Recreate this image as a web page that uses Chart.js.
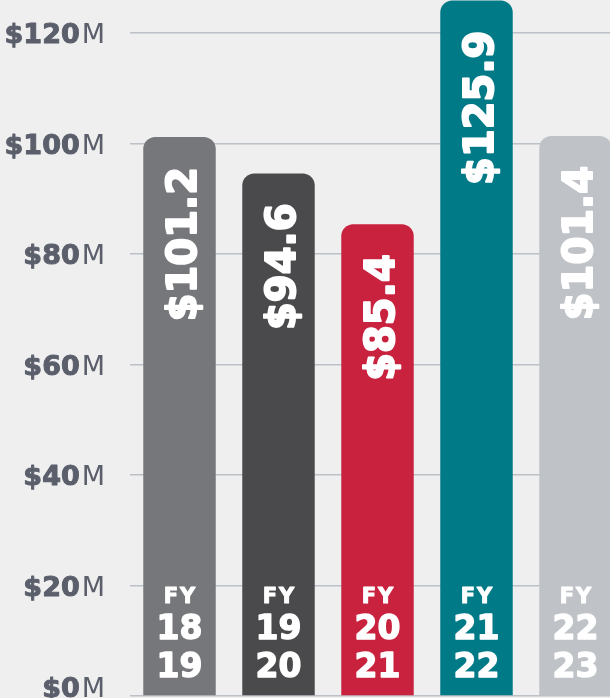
<!DOCTYPE html>
<html>
<head>
<meta charset="utf-8">
<script src="https://cdn.jsdelivr.net/npm/chart.js@4.4.1/dist/chart.umd.min.js"></script>
<style>
  html, body { margin: 0; padding: 0; background: #efefef; width: 610px; height: 698px; overflow: hidden; }
  canvas { display: block; }
</style>
</head>
<body>
<canvas id="c" width="625" height="698"></canvas>
<script>
const categories = ['FY 18-19', 'FY 19-20', 'FY 20-21', 'FY 21-22', 'FY 22-23'];
const fyStart = ['18', '19', '20', '21', '22'];
const fyEnd = ['19', '20', '21', '22', '23'];
const revenue = [101.2, 94.6, 85.4, 125.9, 101.4];
const valueLabels = ['$101.2', '$94.6', '$85.4', '$125.9', '$101.4'];
const barColors = ['#76777b', '#4a4a4c', '#c8223f', '#007a87', '#bfc3c7'];
const yTickValues = [0, 20, 40, 60, 80, 100, 120];

const FONT = '"DejaVu Sans", sans-serif';

function boldText(ctx, text, x, y, w) {
  ctx.lineWidth = w;
  ctx.lineJoin = 'round';
  ctx.strokeText(text, x, y);
  ctx.fillText(text, x, y);
}

const labelsPlugin = {
  id: 'labelsPlugin',
  afterDraw(chart) {
    const ctx = chart.ctx;
    const yScale = chart.scales.y;
    // Y axis tick labels: bold "$120" + regular "M"
    ctx.save();
    ctx.fillStyle = '#5b5f6b';
    ctx.strokeStyle = '#5b5f6b';
    ctx.textBaseline = 'alphabetic';
    yScale.ticks.forEach((t, i) => {
      const py = yScale.getPixelForTick(i);
      const baseY = Math.min(py + 10, 697);
      const rightX = 105;
      ctx.font = '400 27px ' + FONT;
      ctx.textAlign = 'right';
      const mW = ctx.measureText('M').width;
      ctx.fillText('M', rightX, baseY);
      ctx.font = '700 27px ' + FONT;
      boldText(ctx, '$' + t.value, rightX - mW - 2, baseY, 1);
    });
    ctx.restore();

    const meta = chart.getDatasetMeta(0);
    const zeroY = yScale.getPixelForValue(0);
    meta.data.forEach((el, i) => {
      // rotated value label
      ctx.save();
      ctx.fillStyle = '#ffffff';
      ctx.strokeStyle = '#ffffff';
      ctx.font = '700 40px ' + FONT;
      ctx.translate(el.x + 2, el.y + 30);
      ctx.rotate(-Math.PI / 2);
      ctx.textAlign = 'right';
      ctx.textBaseline = 'alphabetic';
      boldText(ctx, valueLabels[i], 0, 14.5, 2);
      ctx.restore();

      // FY labels
      ctx.save();
      ctx.fillStyle = '#ffffff';
      ctx.strokeStyle = '#ffffff';
      ctx.textAlign = 'center';
      ctx.textBaseline = 'alphabetic';
      ctx.font = '700 21px ' + FONT;
      try { ctx.letterSpacing = '2px'; } catch (e) {}
      boldText(ctx, 'FY', el.x + 1, zeroY - 101 + 7.5, 1);
      try { ctx.letterSpacing = '0px'; } catch (e) {}
      ctx.font = '700 33px ' + FONT;
      boldText(ctx, fyStart[i], el.x, zeroY - 69 + 12, 1.4);
      boldText(ctx, fyEnd[i], el.x, zeroY - 31 + 12, 1.4);
      ctx.restore();
    });
  }
};

new Chart(document.getElementById('c'), {
  type: 'bar',
  data: {
    labels: categories,
    datasets: [{
      data: revenue,
      backgroundColor: barColors,
      borderRadius: { topLeft: 12, topRight: 12, bottomLeft: 0, bottomRight: 0 },
      borderSkipped: false,
      barPercentage: 0.8,
      categoryPercentage: 0.915
    }]
  },
  options: {
    responsive: false,
    devicePixelRatio: 1,
    animation: false,
    layout: { padding: { top: 0, bottom: 2, left: 0, right: 0 } },
    plugins: { legend: { display: false }, tooltip: { enabled: false } },
    scales: {
      x: { display: false, grid: { display: false } },
      y: {
        min: 0,
        max: 126,
        afterBuildTicks(scale) { scale.ticks = yTickValues.map(v => ({ value: v })); },
        afterFit(scale) { scale.width = 130; },
        ticks: { display: false },
        grid: { color: '#bcc1c7', lineWidth: 1.5, drawTicks: false },
        border: { display: false }
      }
    }
  },
  plugins: [labelsPlugin]
});
</script>
</body>
</html>
